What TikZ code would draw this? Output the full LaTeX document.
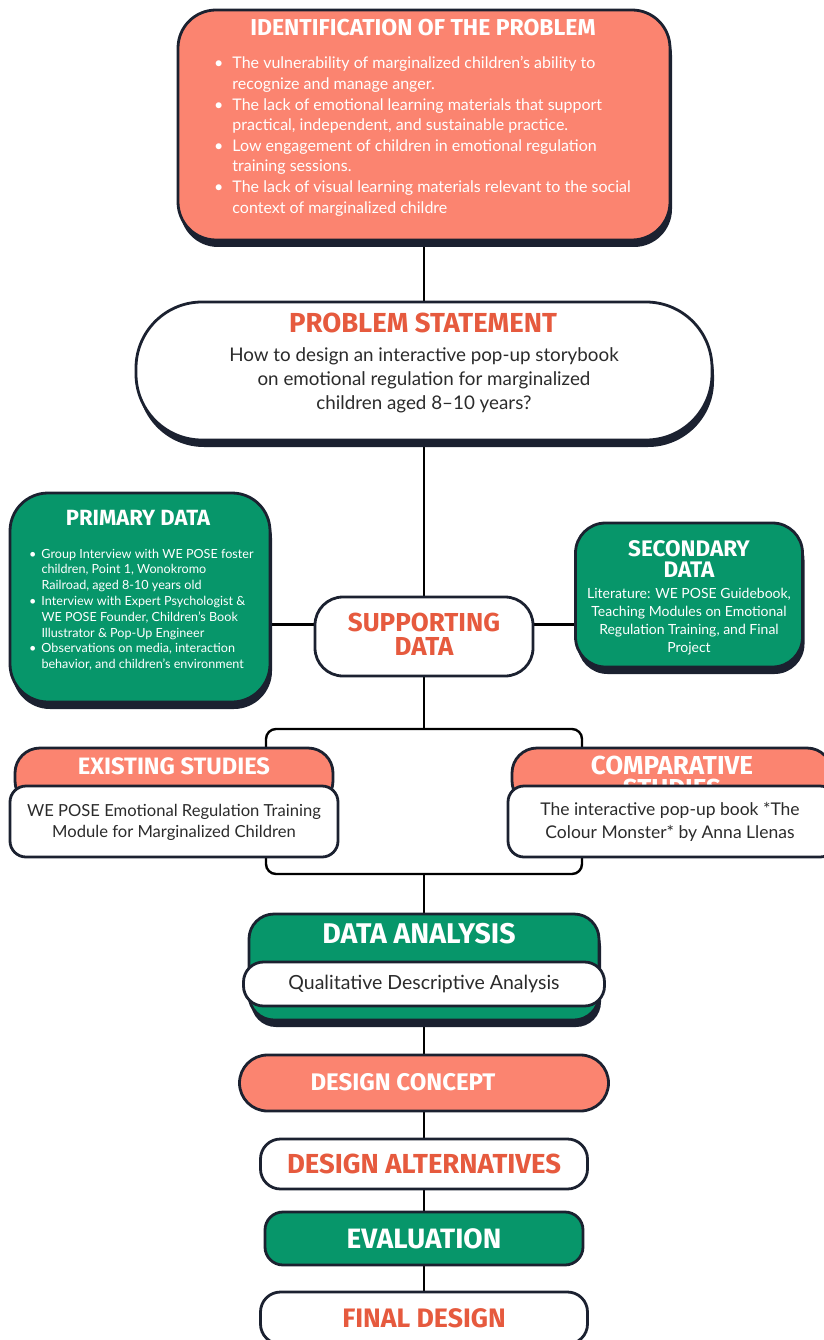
\documentclass[tikz,border=0pt]{standalone}
\usepackage{fontspec}
\setmainfont{Lato}
\newfontfamily\headfont{Fira Sans}
\usetikzlibrary{shadows,backgrounds}
\definecolor{ink}{HTML}{1B2130}
\definecolor{salmon}{HTML}{FB8470}
\definecolor{leaf}{HTML}{07966A}
\definecolor{brick}{HTML}{E65A3E}
\definecolor{bodytxt}{HTML}{2B2B2B}
\tikzset{
  card/.style={draw=ink, line width=2.8pt, rounded corners=#1, inner sep=0pt},
  card/.default=20pt,
  lift/.style={drop shadow={shadow xshift=2pt, shadow yshift=-7pt, fill=ink, opacity=1}},
  wire/.style={line width=2.4pt, black},
  head/.style 2 args={font=\headfont\bfseries\fontsize{#1}{#2}\selectfont, align=center, inner sep=0pt},
}
\begin{document}
\begin{tikzpicture}[x=1pt,y=-1pt]
\useasboundingbox (0,0) rectangle (823,1340);

% identification of the problem
\node[card=38pt, lift, fill=salmon, minimum width=492pt, minimum height=230pt] (ident) at (424,125) {};
\node[head={23}{23}, text=white] (identT) at (423,28) {IDENTIFICATION OF THE PROBLEM};
\node[anchor=base west, inner sep=0pt, text=white, font=\fontsize{16}{20.6}\selectfont] (identL) at (214,69) {%
\begin{tabular}[t]{@{}l@{\hspace{9pt}}l@{}}
\textbullet & The vulnerability of marginalized children’s ability to\\
 & recognize and manage anger.\\
\textbullet & The lack of emotional learning materials that support\\
 & practical, independent, and sustainable practice.\\
\textbullet & Low engagement of children in emotional regulation\\
 & training sessions.\\
\textbullet & The lack of visual learning materials relevant to the social\\
 & context of marginalized childre
\end{tabular}};

% problem statement
\node[card=66pt, lift, fill=white, minimum width=576pt, minimum height=138pt] (problem) at (424,371) {};
\node[head={27.5}{27.5}, text=brick] (problemT) at (423,323) {PROBLEM STATEMENT};
\node[inner sep=0pt, align=center, text=bodytxt, font=\fontsize{18.8}{24}\selectfont] (problemB) at (424,380)
  {How to design an interactive pop-up storybook\\on emotional regulation for marginalized\\children aged 8--10 years?};

% supporting data
\node[card=28pt, fill=white, minimum width=218pt, minimum height=79pt] (support) at (424,636.5) {};
\node[head={26}{24}, text=brick] (supportT) at (424,634) {SUPPORTING\\DATA};

\node[card=38pt, lift, fill=leaf, minimum width=260pt, minimum height=209pt] (primary) at (140,597.5) {};
\node[head={22}{22}, text=white] (primaryT) at (138,518) {PRIMARY DATA};
\node[anchor=base west, inner sep=0pt, text=white, font=\fontsize{12.6}{15.8}\selectfont] (primaryL) at (29,558) {%
\begin{tabular}[t]{@{}l@{\hspace{5pt}}l@{}}
\textbullet & Group Interview with WE POSE foster\\
 & children, Point 1, Wonokromo\\
 & Railroad, aged 8-10 years old\\
\textbullet & Interview with Expert Psychologist \&\\
 & WE POSE Founder, Children's Book\\
 & Illustrator \& Pop-Up Engineer\\
\textbullet & Observations on media, interaction\\
 & behavior, and children's environment
\end{tabular}};

\node[card=30pt, lift, fill=leaf, minimum width=227pt, minimum height=144pt] (second) at (689,595) {};
\node[head={22.5}{21}, text=white] (secondT) at (689,559) {SECONDARY\\DATA};
\node[inner sep=0pt, align=center, text=white, font=\fontsize{14}{18}\selectfont] (secondB) at (689,622)
  {Literature: WE POSE Guidebook,\\Teaching Modules on Emotional\\Regulation Training, and Final\\Project};

% existing and comparative studies
\node[draw=black, line width=2.4pt, rounded corners=10pt, minimum width=316pt, minimum height=145pt] (studies) at (424,801.5) {};

\node[card=25pt, fill=salmon, minimum width=318pt, minimum height=58pt] (existH) at (174,777) {};
\node[head={23.7}{23.7}, text=white] (existT) at (174,766) {EXISTING STUDIES};
\node[card=16pt, fill=white, minimum width=328pt, minimum height=71pt] (exist) at (174,821.5) {};
\node[inner sep=0pt, align=center, text=bodytxt, font=\fontsize{16.6}{21}\selectfont] (existB) at (174,822)
  {WE POSE Emotional Regulation Training\\Module for Marginalized Children};

\node[card=25pt, fill=salmon, minimum width=320pt, minimum height=58pt] (compH) at (672,777) {};
\node[head={26}{23}, text=white, anchor=north] (compT) at (672,756) {COMPARATIVE\\STUDIES};
\node[card=16pt, fill=white, minimum width=328pt, minimum height=71pt] (comp) at (672,821.5) {};
\node[inner sep=0pt, align=center, text=bodytxt, font=\fontsize{17.5}{23}\selectfont] (compB) at (670,822)
  {The interactive pop-up book *The\\Colour Monster* by Anna Llenas};

% data analysis
\node[card=25pt, lift, fill=leaf, minimum width=350pt, minimum height=106pt] (analysis) at (424,967) {};
\node[head={28.5}{28.5}, text=white] (analysisT) at (419,934) {DATA ANALYSIS};
\node[card=20pt, fill=white, minimum width=361pt, minimum height=44pt, text=bodytxt, font=\fontsize{19.5}{20}\selectfont] (analysisB) at (424,984)
  {Qualitative Descriptive Analysis};

% design steps
\node[card=28pt, fill=salmon, minimum width=369pt, minimum height=56pt] (concept) at (424,1083) {};
\node[head={24}{24}, text=white] (conceptT) at (403,1082) {DESIGN CONCEPT};
\node[card=20pt, fill=white, minimum width=327pt, minimum height=50pt, head={27.5}{27.5}, text=brick] (altern) at (424,1164) {DESIGN ALTERNATIVES};
\node[card=18pt, fill=leaf, minimum width=318pt, minimum height=53pt, head={28}{28}, text=white] (evalu) at (424,1238.5) {EVALUATION};
\node[card=20pt, fill=white, minimum width=327pt, minimum height=52pt, head={26.7}{26.7}, text=brick] (final) at (424,1318) {FINAL DESIGN};

\begin{scope}[on background layer]
\draw[wire] (ident) -- (problem);
\draw[wire] (problem) -- (support);
\draw[wire] ([yshift=12pt]support.west) -- ([yshift=12pt]support.west -| primary.east);
\draw[wire] ([yshift=12pt]support.east) -- ([yshift=12pt]support.east -| second.west);
\draw[wire] (support) -- (studies);
\draw[wire] (studies) -- (analysis);
\draw[wire] (analysis) -- (concept);
\draw[wire] (concept) -- (altern);
\draw[wire] (altern) -- (evalu);
\draw[wire] (evalu) -- (final);
\end{scope}
\end{tikzpicture}
\end{document}
